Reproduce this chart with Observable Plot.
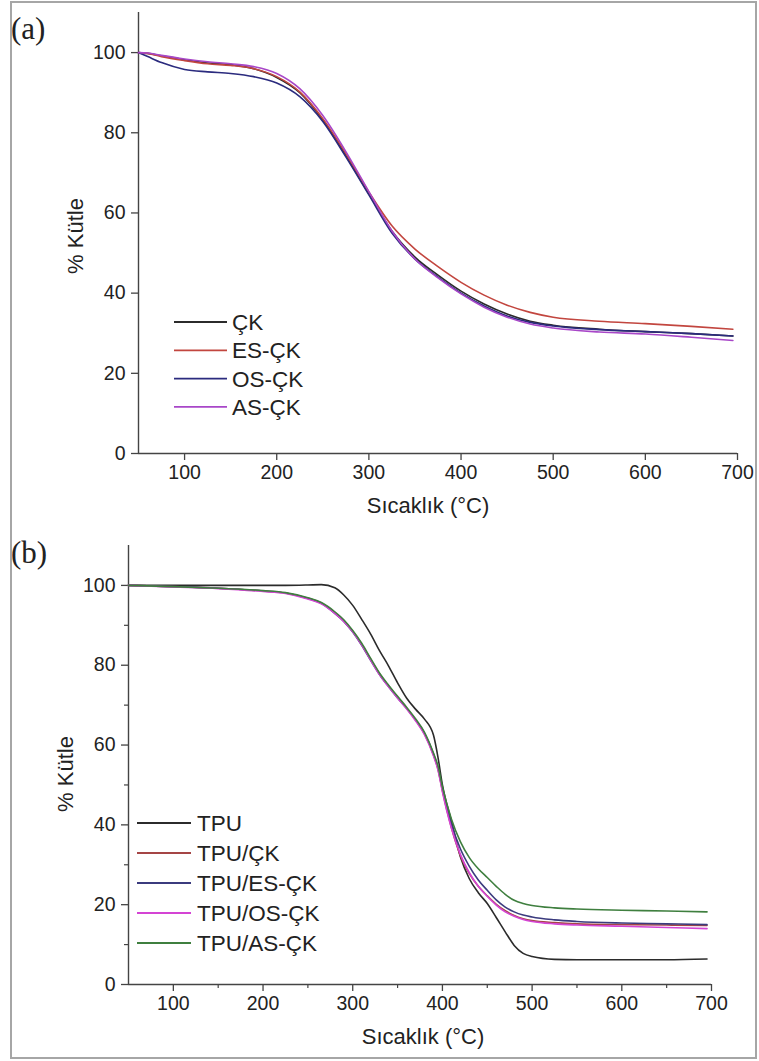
<!DOCTYPE html>
<html><head><meta charset="utf-8">
<script src="https://cdn.jsdelivr.net/npm/d3@7"></script>
<script src="https://cdn.jsdelivr.net/npm/@observablehq/plot@0.6"></script>
<style>
body{margin:0;background:#fff;}
#wrap{position:relative;width:759px;height:1061px;overflow:hidden;font-family:"Liberation Sans",Arial,sans-serif;}
#border{position:absolute;left:10px;top:1px;width:747px;height:1058px;border:2px solid #a6a6a6;box-sizing:border-box;pointer-events:none;}
#pa,#pb{position:absolute;left:0;}
#pa{top:0}
#pb{top:530px}
#wrap svg g[aria-label$="tick label"]{font-size:19.5px;}
</style></head><body>
<div id="wrap"><div id="pa"></div><div id="pb"></div><div id="border"></div></div>
<script>
// ---------- Panel (a) ----------
const tempA = [50,60,75,100,125,150,175,200,225,250,275,300,325,350,375,400,425,450,475,500,550,600,650,695];
const namesA = ["ÇK","ES-ÇK","OS-ÇK","AS-ÇK"];
const colorsA = ["#2b2b2b","#c2463f","#2b2b7e","#a847c8"];
const ckA   = [100,99.8,99.2,98.2,97.4,97.0,96.0,93.8,90.0,83.2,74.3,64.8,55.5,49.0,44.5,40.5,37.3,34.8,33.0,32.0,31.0,30.4,29.9,29.3];
const esckA = [100,99.8,99.0,98.0,97.2,96.8,96.0,94.0,90.2,83.5,74.8,65.2,56.8,51.0,46.6,42.7,39.5,37.0,35.2,34.0,33.0,32.4,31.7,31.0];
const osckA = [100,99.0,97.5,95.8,95.2,94.8,94.0,92.4,89.0,82.8,74.0,64.5,55.0,48.5,44.0,40.0,36.8,34.3,32.7,31.8,30.9,30.4,29.9,29.3];
const asckA = [100,99.9,99.3,98.4,97.7,97.2,96.5,94.8,91.0,84.3,75.3,65.3,55.5,48.5,43.8,39.8,36.5,34.0,32.3,31.3,30.3,29.8,29.0,28.2];
const seriesA = [ckA, esckA, osckA, asckA];

// ---------- Panel (b) ----------
const tempB = [50,100,150,200,225,250,265,280,290,300,310,320,330,340,350,360,370,380,390,395,400,410,420,430,440,450,460,470,480,490,500,525,550,600,650,695];
const namesB = ["TPU","TPU/ÇK","TPU/ES-ÇK","TPU/OS-ÇK","TPU/AS-ÇK"];
const colorsB = ["#2b2b2b","#a54545","#3b3b7e","#d444d4","#3f7f3f"];
const tpuB    = [100,100,100,100,100,100.1,100.2,99.4,97.6,95,91.5,87.8,83.6,79.8,75.6,71.8,69,66.5,62.5,57,50,41,32,26.5,23,20.3,16.8,13.2,9.8,7.8,7.0,6.3,6.2,6.2,6.2,6.4];
const tpuCkB  = [100,99.7,99.3,98.6,98.1,96.8,95.6,93.2,91.2,88.5,85.3,81.5,77.8,74.8,72,69.3,66.3,62.8,57.5,54,48.5,39.3,32.3,27.8,24.6,22.2,20.1,18.5,17.3,16.5,16.0,15.5,15.2,15.0,14.9,14.8];
const tpuEsB  = [100,99.7,99.3,98.6,98.1,96.7,95.5,93.0,91.0,88.3,85.0,81.2,77.6,74.6,71.8,69.2,66.3,63,57.8,54.3,49,40.2,34,29.6,26.2,23.6,21.2,19.4,18.2,17.4,16.9,16.2,15.8,15.4,15.2,15.0];
const tpuOsB  = [100,99.6,99.2,98.5,98.0,96.6,95.4,93.0,91.0,88.4,85.1,81.3,77.6,74.6,71.8,69.1,66.1,62.6,57.3,53.8,48.3,39.2,32.6,28,24.6,22.1,19.9,18.2,17.1,16.3,15.8,15.2,14.9,14.6,14.3,14.0];
const tpuAsB  = [100,99.7,99.3,98.7,98.2,96.9,95.7,93.4,91.4,88.7,85.5,81.7,78.0,75.0,72.2,69.5,66.6,63.2,58.0,54.8,49.5,41.5,35.8,31.8,29.0,26.8,24.6,22.6,21.1,20.3,19.8,19.2,18.9,18.6,18.4,18.2];
const seriesB = [tpuB, tpuCkB, tpuEsB, tpuOsB, tpuAsB];

const xTicks = [100,200,300,400,500,600,700];
const xMinor = [150,250,350,450,550,650];
const yTicks = [0,20,40,60,80,100];
const yMinor = [10,30,50,70,90];
const xLabel = "Sıcaklık (°C)";
const yLabel = "% Kütle";

const FONT = "'Liberation Sans', Arial, Helvetica, sans-serif";
const AX = "#444";
const TXT = "#222";

function rows(names, temps, series){
  return names.flatMap((n,i)=> temps.map((t,j)=>({series:n, t, m:series[i][j]})));
}

function makePlot(cfg){
  const marks = [
    Plot.ruleX([50], {stroke:AX, strokeWidth:1.4}),
    Plot.ruleY([0], {stroke:AX, strokeWidth:1.4}),
    Plot.axisX(xTicks, {tickSize:7, tickPadding:5, label:null, stroke:AX, fill:TXT, fontSize:19.5, strokeWidth:1.3}),
    Plot.axisY(yTicks, {tickSize:7, tickPadding:6, label:null, stroke:AX, fill:TXT, fontSize:19.5, strokeWidth:1.3}),
  ];
  if (cfg.minor) {
    marks.push(Plot.axisX(xMinor, {tickSize:4, text:null, label:null, stroke:AX, strokeWidth:1.2}));
    marks.push(Plot.axisY(yMinor, {tickSize:4, text:null, label:null, stroke:AX, strokeWidth:1.2}));
  }
  marks.push(Plot.line(cfg.data, {x:"t", y:"m", z:"series", stroke:"series", strokeWidth:1.6, curve:"monotone-x"}));
  return Plot.plot({
    width:759, height:cfg.height,
    marginTop:cfg.mt, marginBottom:cfg.mb, marginLeft:cfg.ml, marginRight:cfg.mr,
    style:{fontFamily:FONT, fontSize:"19.5px", color:TXT, background:"transparent", overflow:"visible"},
    x:{domain:[50,700]}, y:{domain:[0,110]},
    color:{domain:cfg.names, range:cfg.colors},
    marks
  });
}

function decorate(svg, o){
  const g = d3.select(svg).append("g").attr("font-family", FONT).attr("fill", TXT).attr("text-anchor","start");
  g.append("text").attr("x", 11).attr("y", o.tagY).attr("text-anchor","start")
    .attr("font-family","'Liberation Serif','Times New Roman',serif")
    .attr("font-size", 31).text(o.tag);
  g.append("text").attr("x", o.xlX).attr("y", o.xlY).attr("text-anchor","middle").attr("font-size",22).text(xLabel);
  g.append("text").attr("transform", `translate(${o.ylX},${o.ylY}) rotate(-90)`).attr("text-anchor","middle")
    .attr("font-size",22).text(yLabel);
  o.names.forEach((n,i)=>{
    const y = o.legY + i*o.legDy;
    g.append("line").attr("x1",o.legX0).attr("x2",o.legX1).attr("y1",y).attr("y2",y)
      .attr("stroke",o.colors[i]).attr("stroke-width",1.8);
    g.append("text").attr("x",o.legTx).attr("y",y).attr("dy","0.36em").attr("text-anchor","start")
      .attr("font-size",22.5).text(n);
  });
}

const pa = makePlot({data:rows(namesA,tempA,seriesA), names:namesA, colors:colorsA, height:530, mt:12, mb:77, ml:138, mr:22, minor:false});
decorate(pa, {tag:"(a)", tagY:39, xlX:428, xlY:513, ylX:83, ylY:236, names:namesA, colors:colorsA,
  legX0:174, legX1:227, legTx:232, legY:322, legDy:28.3});
document.getElementById("pa").appendChild(pa);

const pb = makePlot({data:rows(namesB,tempB,seriesB), names:namesB, colors:colorsB, height:531, mt:15, mb:77, ml:128, mr:48, minor:true});
decorate(pb, {tag:"(b)", tagY:33, xlX:423, xlY:514, ylX:73, ylY:244, names:namesB, colors:colorsB,
  legX0:137, legX1:191, legTx:197, legY:293, legDy:30});
document.getElementById("pb").appendChild(pb);
</script>
</body></html>
